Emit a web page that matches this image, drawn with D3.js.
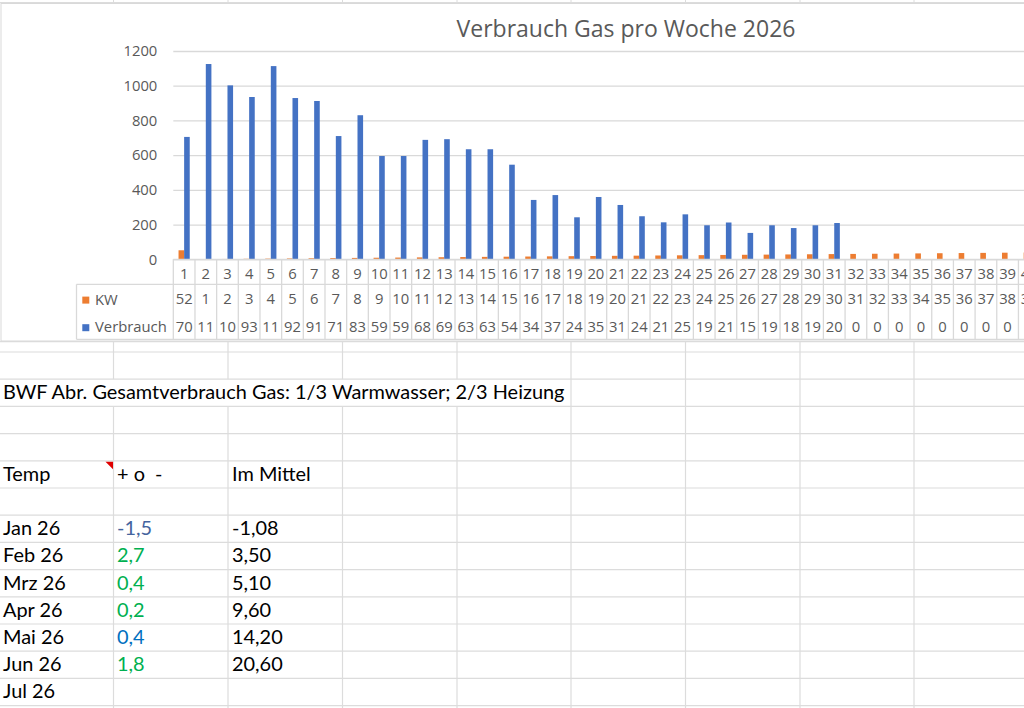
<!DOCTYPE html>
<html><head><meta charset="utf-8">
<script src="https://cdn.jsdelivr.net/npm/d3@7"></script>
<style>
html,body{margin:0;padding:0;background:#fff;}
svg{display:block;}
text{white-space:pre;}
</style></head>
<body>
<svg id="c" width="1024" height="708"></svg>
<script>
// ---------- data ----------
const title = "Verbrauch Gas pro Woche 2026";
const categories = ["1","2","3","4","5","6","7","8","9","10","11","12","13","14","15","16","17","18","19","20",
  "21","22","23","24","25","26","27","28","29","30","31","32","33","34","35","36","37","38","39","40"];
const kw = [52,1,2,3,4,5,6,7,8,9,10,11,12,13,14,15,16,17,18,19,20,21,22,23,24,25,26,27,28,29,30,31,32,33,34,35,36,37,38,39];
const verbrauch = [705,1125,1002,935,1113,929,912,710,830,595,595,688,692,634,634,545,342,370,242,359,
  313,248,213,259,196,212,152,196,180,196,209,0,0,0,0,0,0,0,0,0];
const seriesNames = ["KW","Verbrauch"];
const yTicks = [0,200,400,600,800,1000,1200];

const noteText = "BWF Abr. Gesamtverbrauch Gas: 1/3 Warmwasser; 2/3 Heizung";
const headers = ["Temp","+ o  -","Im Mittel"];
const months = ["Jan 26","Feb 26","Mrz 26","Apr 26","Mai 26","Jun 26","Jul 26"];
const deviation = ["-1,5","2,7","0,4","0,2","0,4","1,8",""];
const mean = ["-1,08","3,50","5,10","9,60","14,20","20,60",""];
const deviationColors = ["#44649e","#00b050","#00b050","#00b050","#0070c0","#00b050","#000"];

// ---------- setup ----------
const svg = d3.select("#c");
const gridColor = "#dcdcdc";
const colX = [113.5,228,342.5,457,571,685.5,800,914];
const rowTop = 352, rowH = 27.2;

// spreadsheet grid
const sheet = svg.append("g");
sheet.append("line").attr("x1",0).attr("x2",1024).attr("y1",2.5).attr("y2",2.5).attr("stroke",gridColor);
colX.forEach(x=>{
  sheet.append("line").attr("x1",x).attr("x2",x).attr("y1",0).attr("y2",3).attr("stroke",gridColor);
});
const rowLines = [341.7];
for(let i=0;i<=13;i++) rowLines.push(rowTop+i*rowH);
rowLines.forEach(y=>{
  sheet.append("line").attr("x1",0).attr("x2",1024).attr("y1",y).attr("y2",y).attr("stroke",gridColor).attr("stroke-width",1.2);
});
const noteRowTop = rowTop+rowH, noteRowBot = rowTop+2*rowH;
colX.forEach(x=>{
  if(x<566){
    sheet.append("line").attr("x1",x).attr("x2",x).attr("y1",341).attr("y2",noteRowTop).attr("stroke",gridColor).attr("stroke-width",1.2);
    sheet.append("line").attr("x1",x).attr("x2",x).attr("y1",noteRowBot).attr("y2",708).attr("stroke",gridColor).attr("stroke-width",1.2);
  } else {
    sheet.append("line").attr("x1",x).attr("x2",x).attr("y1",341).attr("y2",708).attr("stroke",gridColor).attr("stroke-width",1.2);
  }
});

const cellFont = "Lato,'Open Sans',sans-serif";
// fit font size so the note spans the same width as in the sheet
let cellSize = 18;
{
  const t = sheet.append("text").attr("font-family",cellFont).attr("font-size",100).text(noteText);
  const w = t.node().getComputedTextLength();
  t.remove();
  if (w>0) cellSize = 100*562/w;
}
function cellText(x,row,txt,color){
  sheet.append("text").attr("x",x).attr("y",rowTop+row*rowH+rowH-7.2)
    .attr("font-family",cellFont).attr("font-size",cellSize).attr("fill",color||"#000").text(txt);
}
cellText(3,1,noteText);
cellText(3,4,headers[0]); cellText(117,4,headers[1]); cellText(232,4,headers[2]);
// comment indicator
sheet.append("path").attr("d",`M${colX[0]-8},${rowTop+4*rowH+1} L${colX[0]-0.5},${rowTop+4*rowH+1} L${colX[0]-0.5},${rowTop+4*rowH+8.5} Z`).attr("fill","#e00000");
months.forEach((m,i)=>{
  cellText(3,6+i,m);
  cellText(117,6+i,deviation[i],deviationColors[i]);
  cellText(232,6+i,mean[i]);
});

// ---------- chart ----------
const chart = svg.append("g");
chart.append("rect").attr("x",1).attr("y",3.5).attr("width",1040).attr("height",337.5)
  .attr("fill","#fff").attr("stroke","#d9d9d9");

const chartFont = "'Open Sans','Noto Sans',sans-serif";
const textGray = "#595959";
chart.append("text").attr("x",626).attr("y",37).attr("text-anchor","middle")
  .attr("font-family",chartFont).attr("font-size",23).attr("fill",textGray).text(title);

const step = 21.67, x0 = 173.3;
const x = d3.scaleBand().domain(categories).range([x0, x0+categories.length*step]).paddingInner(0).paddingOuter(0);
const y = d3.scaleLinear().domain([0,1200]).range([259.3,51]);
const barW = 5.6;
const sub = d3.scaleBand().domain(seriesNames).range([x.bandwidth()/2-barW, x.bandwidth()/2+barW]);
const colors = {KW:"#ed7d31", Verbrauch:"#4472c4"};

const yAxis = d3.axisLeft(y).tickValues(yTicks).tickSize(-(1100-x0)).tickPadding(16).tickFormat(d3.format("d"));
const ga = chart.append("g").attr("transform",`translate(${x0},0)`).call(yAxis);
ga.select(".domain").remove();
ga.selectAll(".tick line").attr("stroke","#d9d9d9").attr("stroke-width",1.3);
ga.selectAll(".tick text").attr("font-family",chartFont).attr("font-size",14.8).attr("fill",textGray);

const series = [{name:"KW",values:kw},{name:"Verbrauch",values:verbrauch}];
series.forEach(s=>{
  chart.append("g").selectAll("rect").data(categories).join("rect")
    .attr("x",(c)=>x(c)+sub(s.name))
    .attr("y",(c,i)=>y(s.values[i]))
    .attr("width",sub.bandwidth())
    .attr("height",(c,i)=>y(0)-y(s.values[i]))
    .attr("fill",colors[s.name]);
});

// data table
const tTop = y(0), r1 = 284.3, tBot = 339.3, legendLeft = 76.5;
const tbl = chart.append("g");
const tblColor = "#d9d9d9";
tbl.append("line").attr("x1",x0).attr("x2",1100).attr("y1",tTop).attr("y2",tTop).attr("stroke",tblColor).attr("stroke-width",1.3);
tbl.append("line").attr("x1",legendLeft).attr("x2",1100).attr("y1",r1).attr("y2",r1).attr("stroke",tblColor).attr("stroke-width",1.3);
tbl.append("line").attr("x1",legendLeft).attr("x2",1100).attr("y1",tBot).attr("y2",tBot).attr("stroke",tblColor).attr("stroke-width",1.3);
tbl.append("line").attr("x1",legendLeft).attr("x2",legendLeft).attr("y1",r1).attr("y2",tBot).attr("stroke",tblColor).attr("stroke-width",1.3);
tbl.selectAll("line.v").data(categories.concat(["end"])).join("line").attr("class","v")
  .attr("x1",(c,i)=>x0+i*step).attr("x2",(c,i)=>x0+i*step)
  .attr("y1",tTop).attr("y2",tBot).attr("stroke",tblColor).attr("stroke-width",1.3);

const cx = c=>x(c)+x.bandwidth()/2;
const tfs = 14.8;
tbl.selectAll("text.cat").data(categories).join("text").attr("class","cat")
  .attr("x",cx).attr("y",278.5).attr("text-anchor","middle")
  .attr("font-family",chartFont).attr("font-size",tfs).attr("fill",textGray).text(d=>d);
tbl.selectAll("text.kw").data(categories).join("text").attr("class","kw")
  .attr("x",cx).attr("y",304.2).attr("text-anchor","middle")
  .attr("font-family",chartFont).attr("font-size",tfs).attr("fill",textGray).text((c,i)=>String(kw[i]));
tbl.selectAll("text.vb").data(categories).join("text").attr("class","vb")
  .attr("x",cx).attr("y",331.8).attr("text-anchor","middle")
  .attr("font-family",chartFont).attr("font-size",tfs).attr("fill",textGray).text((c,i)=>String(verbrauch[i]).slice(0,2));

[[seriesNames[0],300],[seriesNames[1],327.6]].forEach(([n,cy])=>{
  tbl.append("rect").attr("x",82.3).attr("y",cy-3.4).attr("width",7).attr("height",7).attr("fill",colors[n]);
  tbl.append("text").attr("x",95).attr("y",cy+4.5).attr("font-family",chartFont).attr("font-size",tfs).attr("fill",textGray).text(n);
});
</script>
</body></html>
